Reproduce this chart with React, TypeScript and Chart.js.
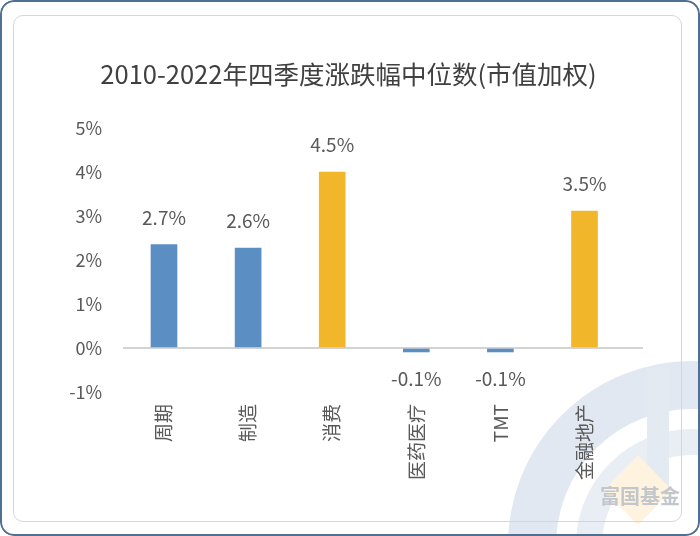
import React, { useEffect, useRef } from "react";
import { Chart, registerables } from "chart.js";

Chart.register(...registerables);

const categories = ["周期", "制造", "消费", "医药医疗", "TMT", "金融地产"];
// bar heights as drawn in the picture (axis units, %)
const barHeights = [2.35, 2.27, 4.0, -0.09, -0.09, 3.11];
// value labels printed above / below the bars
const valueLabels = ["2.7%", "2.6%", "4.5%", "-0.1%", "-0.1%", "3.5%"];
const barColors = ["#5b8ec2", "#5b8ec2", "#f2b62b", "#5b8ec2", "#5b8ec2", "#f2b62b"];
const yTicks = [-1, 0, 1, 2, 3, 4, 5];
const titleText = "2010-2022年四季度涨跌幅中位数(市值加权)";

const FONT = "'Noto Sans CJK SC', 'Noto Sans', sans-serif";
const GREY = "#595959";

const valueLabelPlugin = {
  id: "valueLabels",
  afterDatasetsDraw(chart: any) {
    const ctx = chart.ctx;
    const meta = chart.getDatasetMeta(0);
    ctx.save();
    ctx.font = `19px ${FONT}`;
    ctx.fillStyle = GREY;
    ctx.textAlign = "center";
    ctx.textBaseline = "middle";
    meta.data.forEach((el: any, i: number) => {
      const v = barHeights[i];
      const y = v >= 0 ? el.y - 27 : el.y + 27;
      ctx.fillText(valueLabels[i], el.x, y);
    });
    ctx.restore();
  },
};

export default function App() {
  const ref = useRef<HTMLCanvasElement | null>(null);

  useEffect(() => {
    if (!ref.current) return;
    const chart = new Chart(ref.current, {
      type: "bar",
      data: {
        datasets: [
          {
            data: barHeights.map((v, i) => ({ x: i, y: v })),
            backgroundColor: barColors,
            barThickness: 26,
          },
        ],
      },
      options: {
        animation: false,
        responsive: false,
        devicePixelRatio: 1,
        layout: { padding: { left: 0, right: 57, top: 128, bottom: 44 } },
        plugins: {
          legend: { display: false },
          tooltip: { enabled: false },
          title: { display: false },
        },
        scales: {
          x: {
            type: "linear",
            offset: false,
            min: -0.4875,
            max: 5.6955,
            grid: { display: false, drawTicks: false, offset: false },
            border: { display: false },
            afterBuildTicks: (scale: any) => {
              scale.ticks = categories.map((_, i) => ({ value: i }));
            },
            afterFit: (scale: any) => {
              scale.height = 100;
            },
            ticks: {
              autoSkip: false,
              minRotation: 90,
              maxRotation: 90,
              padding: 12,
              color: GREY,
              font: { family: FONT, size: 19 },
              callback: (v: any) => categories[Math.round(Number(v))] ?? "",
            },
          },
          y: {
            type: "linear",
            min: -1,
            max: 5,
            afterBuildTicks: (scale: any) => {
              scale.ticks = yTicks.map((v) => ({ value: v }));
            },
            afterFit: (scale: any) => {
              scale.width = 123;
            },
            border: { display: false },
            grid: {
              drawTicks: false,
              color: (c: any) => (c.tick && c.tick.value === 0 ? "#d3d3d3" : "rgba(0,0,0,0)"),
              lineWidth: (c: any) => (c.tick && c.tick.value === 0 ? 2 : 0),
            },
            ticks: {
              padding: 21,
              color: GREY,
              font: { family: FONT, size: 18 },
              callback: (v: any) => `${v}%`,
            },
          },
        },
      } as any,
      plugins: [valueLabelPlugin],
    });
    return () => chart.destroy();
  }, []);

  return (
    <div
      style={{
        position: "fixed",
        left: 0,
        top: 0,
        width: 700,
        height: 536,
        overflow: "hidden",
        borderRadius: 14,
        background: "#ffffff",
      }}
    >
      <svg
        width={700}
        height={536}
        style={{ position: "absolute", left: 0, top: 0 }}
      >
        <circle cx={692} cy={545} r={160} fill="none" stroke="#e2e8f1" strokeWidth={48} />
        <circle cx={692} cy={545} r={103} fill="none" stroke="#e9eef5" strokeWidth={26} />
        <rect x={647} y={368} width={22} height={120} fill="#e4eaf2" />
        <polygon points="638,455 672,490 638,525 604,490" fill="#fdf3df" />
      </svg>
      <div
        style={{
          position: "absolute",
          left: 0,
          top: 0,
          width: 700,
          height: 536,
          boxSizing: "border-box",
          border: "2px solid #4f6f93",
          borderRadius: 14,
        }}
      />
      <div
        style={{
          position: "absolute",
          left: 13,
          top: 15,
          width: 669,
          height: 507,
          boxSizing: "border-box",
          border: "1px solid #d3d6da",
          borderRadius: 10,
        }}
      />
      <div
        style={{
          position: "absolute",
          left: 600,
          top: 484,
          fontFamily: FONT,
          fontSize: 20,
          fontWeight: 700,
          color: "#c3c7cc",
          lineHeight: "24px",
          whiteSpace: "nowrap",
        }}
      >
        富国基金
      </div>
      <div
        style={{
          position: "absolute",
          left: 0,
          top: 58,
          width: 697,
          textAlign: "center",
          fontFamily: FONT,
          fontSize: 25.5,
          lineHeight: "30px",
          color: "#404040",
          whiteSpace: "nowrap",
        }}
      >
        {titleText}
      </div>
      <canvas
        ref={ref}
        width={700}
        height={536}
        style={{ position: "absolute", left: 0, top: 0, width: 700, height: 536 }}
      />
    </div>
  );
}
